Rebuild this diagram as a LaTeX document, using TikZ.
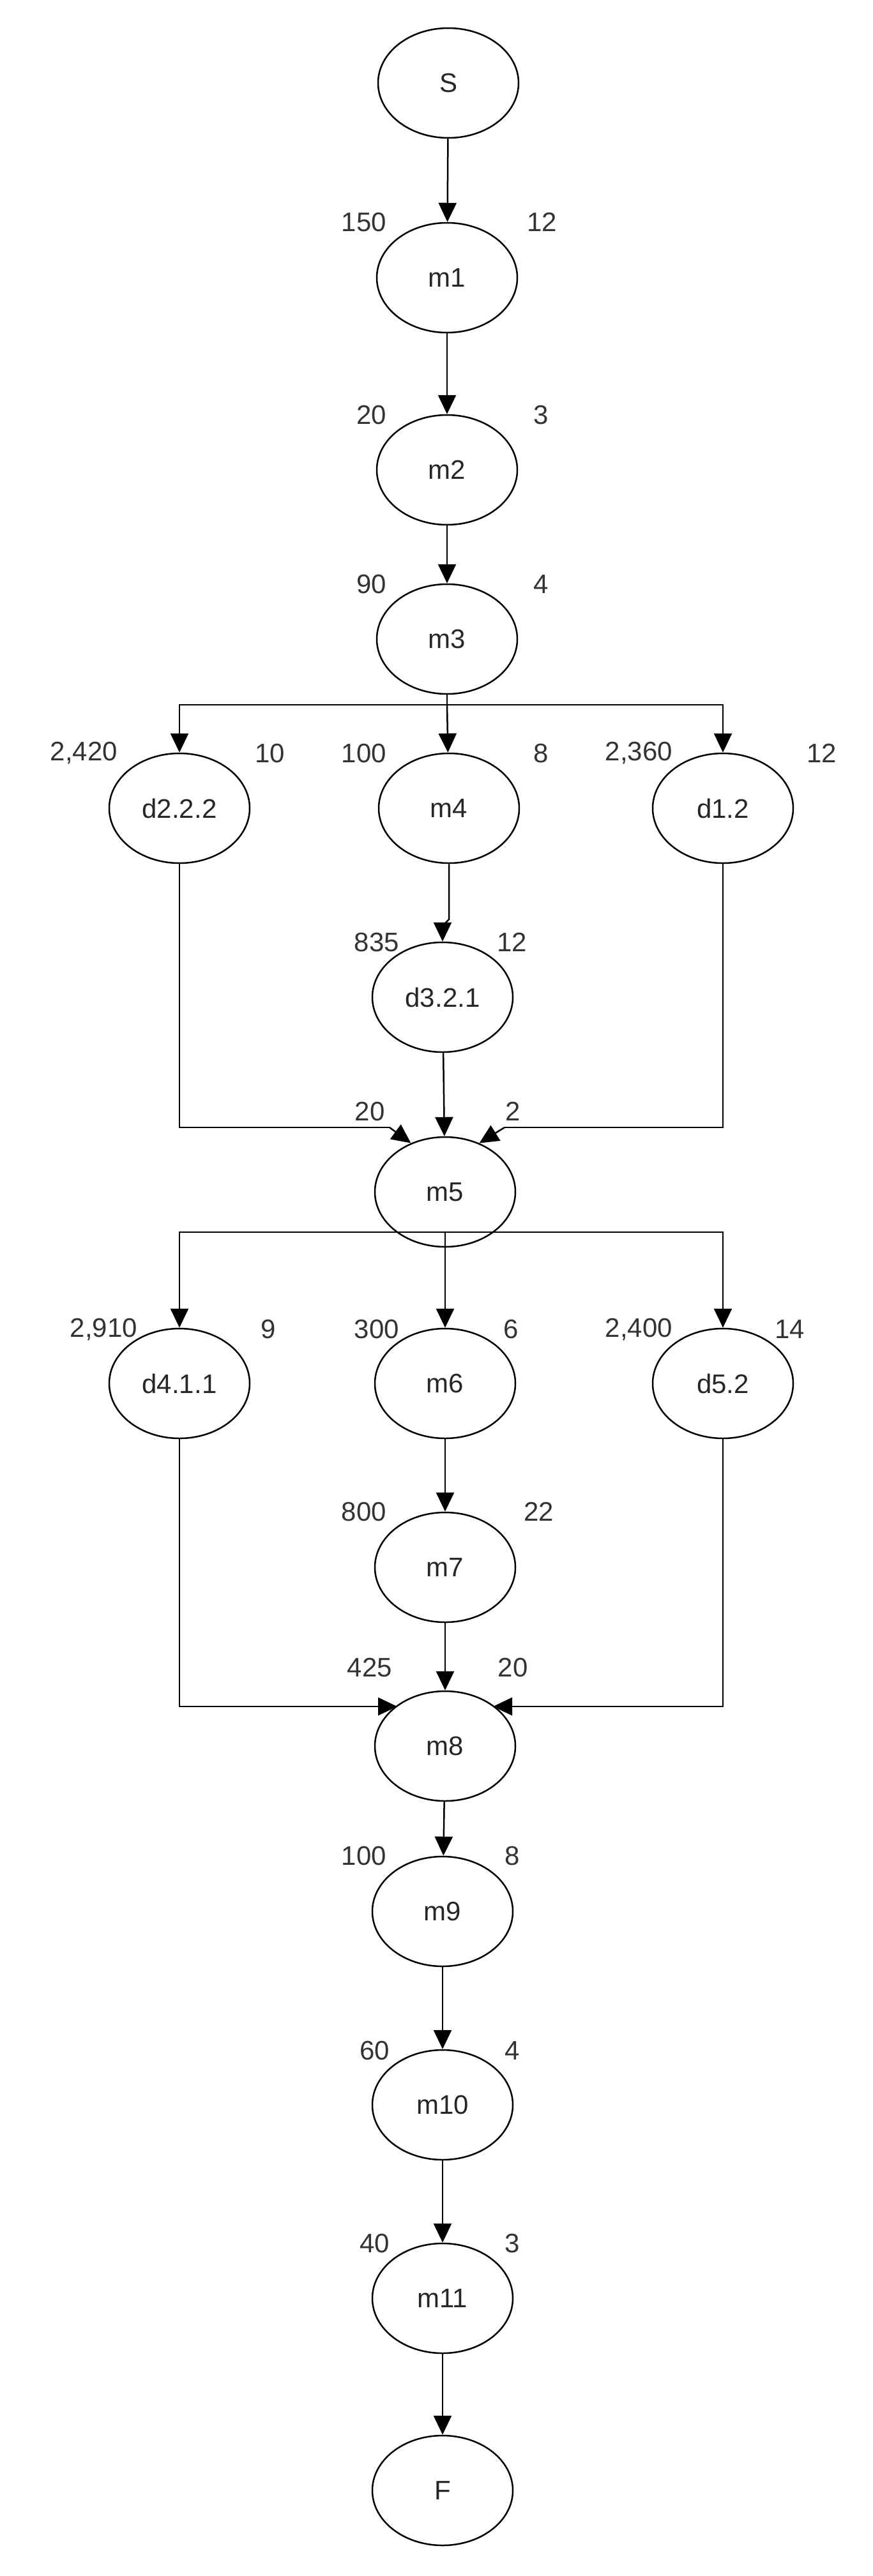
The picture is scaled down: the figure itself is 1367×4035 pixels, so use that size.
\documentclass[tikz,border=0pt]{standalone}
\usepackage{fontspec}
\setmainfont{Liberation Sans}
\usetikzlibrary{shapes.geometric,arrows.meta}
\begin{document}
\begin{tikzpicture}[x=1pt,y=-1pt,
  nd/.style={ellipse,draw,line width=2.5pt,minimum width=220pt,minimum height=172pt,inner sep=0pt,font=\fontsize{42}{48}\selectfont,text=black!85},
  lb/.style={font=\fontsize{42}{48}\selectfont,text=black!80,inner sep=0pt},
  ar/.style={line width=2.5pt,-{Triangle[length=30pt,width=28pt]}},
  ln/.style={line width=2.5pt}]
\useasboundingbox (0,0) rectangle (1367,4035);
\node[nd] (S) at (702,130) {S};
\node[nd] (m1) at (700,435) {m1};
\node[nd] (m2) at (700,736) {m2};
\node[nd] (m3) at (700,1001) {m3};
\node[nd] (d222) at (281,1266) {d2.2.2};
\node[nd] (m4) at (703,1266) {m4};
\node[nd] (d12) at (1132,1266) {d1.2};
\node[nd] (d321) at (693,1562) {d3.2.1};
\node[nd] (m5) at (697,1867) {m5};
\node[nd] (d411) at (281,2167) {d4.1.1};
\node[nd] (m6) at (697,2167) {m6};
\node[nd] (d52) at (1132,2167) {d5.2};
\node[nd] (m7) at (697,2455) {m7};
\node[nd] (m8) at (697,2735) {m8};
\node[nd] (m9) at (693,2994) {m9};
\node[nd] (m10) at (693,3297) {m10};
\node[nd] (m11) at (693,3600) {m11};
\node[nd] (F) at (693,3901) {F};
% labels
\node[lb,anchor=east] (l1a) at (605,348) {150};
\node[lb,anchor=west] (l1b) at (825,348) {12};
\node[lb,anchor=east] (l2a) at (605,650) {20};
\node[lb,anchor=west] (l2b) at (835,650) {3};
\node[lb,anchor=east] (l3a) at (605,915) {90};
\node[lb,anchor=west] (l3b) at (835,915) {4};
\node[lb,anchor=east] (l4a) at (184,1180) {2,420};
\node[lb,anchor=west] (l4b) at (399,1180) {10};
\node[lb,anchor=east] (l5a) at (605,1180) {100};
\node[lb,anchor=west] (l5b) at (835,1180) {8};
\node[lb,anchor=east] (l6a) at (1053,1180) {2,360};
\node[lb,anchor=west] (l6b) at (1263,1180) {12};
\node[lb,anchor=east] (l7a) at (625,1476) {835};
\node[lb,anchor=west] (l7b) at (778,1476) {12};
\node[lb] (l8a) at (579,1741) {20};
\node[lb] (l8b) at (803,1741) {2};
\node[lb,anchor=east] (l9a) at (215,2082) {2,910};
\node[lb,anchor=west] (l9b) at (408,2082) {9};
\node[lb,anchor=east] (l10a) at (625,2082) {300};
\node[lb,anchor=west] (l10b) at (788,2082) {6};
\node[lb,anchor=east] (l11a) at (1053,2082) {2,400};
\node[lb,anchor=west] (l11b) at (1213,2082) {14};
\node[lb,anchor=east] (l12a) at (605,2368) {800};
\node[lb,anchor=west] (l12b) at (820,2368) {22};
\node[lb] (l13a) at (579,2612) {425};
\node[lb] (l13b) at (803,2612) {20};
\node[lb,anchor=east] (l14a) at (605,2907) {100};
\node[lb,anchor=west] (l14b) at (790,2907) {8};
\node[lb,anchor=east] (l15a) at (610,3212) {60};
\node[lb,anchor=west] (l15b) at (790,3212) {4};
\node[lb,anchor=east] (l16a) at (610,3514) {40};
\node[lb,anchor=west] (l16b) at (790,3514) {3};
% coordinates
\coordinate (b1) at (700,1104);
\coordinate (j1) at (703,1440);
\coordinate (j2) at (693,1450);
\coordinate (c1) at (610,1766);
\coordinate (c2) at (790,1766);
\coordinate (b2) at (697,1930);
\coordinate (e1) at (622,2673);
\coordinate (e2) at (772,2673);
% edges
\draw[ar] (S) -- (m1);
\draw[ar] (m1) -- (m2);
\draw[ar] (m2) -- (m3);
\draw[ln] (m3) -- (b1);
\draw[ar] (b1) -| (d222);
\draw[ar] (b1) -| (d12);
\draw[ar] (b1) -- (m4);
\draw[ln] (m4) -- (j1) -- (j2);
\draw[ar] (j2) -- (d321);
\draw[ar] (d321) -- (m5);
\draw[ln] (d222) |- (c1);
\draw[ar] (c1) -- (m5.125);
\draw[ln] (d12) |- (c2);
\draw[ar] (c2) -- (m5.55);
\draw[ln] (m5) -- (b2);
\draw[ar] (b2) -| (d411);
\draw[ar] (b2) -| (d52);
\draw[ar] (m5) -- (m6);
\draw[ar] (m6) -- (m7);
\draw[ar] (m7) -- (m8);
\draw[ar] (d411) |- (e1);
\draw[ar] (d52) |- (e2);
\draw[ar] (m8) -- (m9);
\draw[ar] (m9) -- (m10);
\draw[ar] (m10) -- (m11);
\draw[ar] (m11) -- (F);
\end{tikzpicture}
\end{document}
